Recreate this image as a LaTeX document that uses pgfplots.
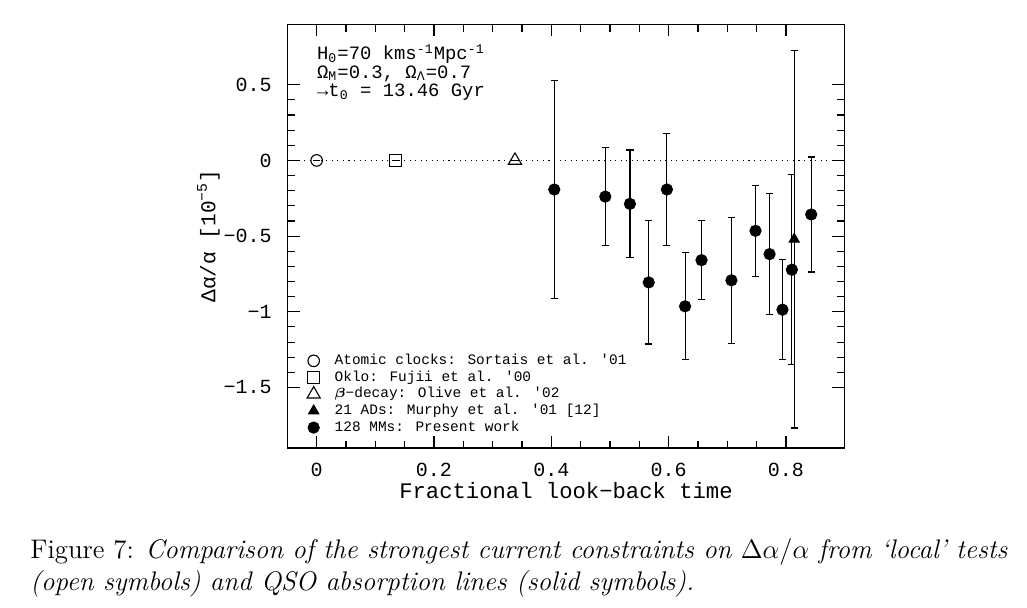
\documentclass[border=0pt]{standalone}
\usepackage{amsmath}
\usepackage{fontspec}
\usepackage{pgfplots}
\pgfplotsset{compat=1.18}
\usepackage{pgfplotstable}

% thin, wide typeface for everything inside the plot frame
\newfontfamily\pf{Liberation Mono}

% 128 many-multiplet absorbers, binned
\pgfplotstableread{
x      y       e
0.405  -0.192  0.718
0.492  -0.239  0.323
0.534  -0.287  0.356
0.566  -0.806  0.407
0.597  -0.192  0.370
0.628  -0.964  0.354
0.656  -0.659  0.262
0.707  -0.792  0.417
0.748  -0.465  0.302
0.772  -0.619  0.398
0.794  -0.986  0.331
0.810  -0.722  0.627
0.843  -0.357  0.380
}\mmdata

% 21 alkali doublets
\pgfplotstableread{
x      y       e
0.814  -0.521  1.247
}\addata

% local constraints (errors far below the plotting resolution)
\pgfplotstableread{
x     y   e
0.000 0   0.001
}\clockdata
\pgfplotstableread{
x     y   e
0.135 0   0.001
}\oklodata
\pgfplotstableread{
x     y   e
0.338 0   0.001
}\betadata

\begin{document}
\begin{tikzpicture}
\path[use as bounding box] (0pt,0pt) rectangle (462.15pt,273.15pt);
\begin{axis}[
  at={(129.3pt,71.55pt)}, anchor=south west,
  scale only axis, width=250.8pt, height=190.7pt,
  xmin=-0.05, xmax=0.9, ymin=-1.9, ymax=0.9,
  xtick={0,0.2,0.4,0.6,0.8},
  xticklabels={0,0.2,0.4,0.6,0.8},
  ytick={-1.5,-1,-0.5,0,0.5},
  yticklabels={−1.5,−1,−0.5,0,0.5},
  minor x tick num=3, minor y tick num=4,
  tick align=inside,
  major tick length=5.5pt, minor tick length=3.3pt,
  every tick/.style={black, line width=0.5pt},
  axis line style={line width=0.6pt},
  xticklabel style={font=\pf\fontsize{9}{10}\selectfont, anchor=base, yshift=-13pt},
  yticklabel style={font=\pf\fontsize{9}{10}\selectfont, anchor=east, inner sep=0pt, xshift=-6.9pt},
  xlabel={Fractional look−back time},
  ylabel={Δα/α [10\textsuperscript{−5}]},
  every axis x label/.style={at={(axis description cs:0.5,-0.118)}, anchor=base, font=\pf\fontsize{10}{12}\selectfont},
  every axis y label/.style={at={(axis description cs:-0.129,0.5)}, rotate=90, anchor=base, font=\pf\fontsize{9.5}{11}\selectfont},
  legend cell align=left,
  legend image code/.code={\draw[mark repeat=2,mark phase=2,#1] plot coordinates {(0cm,0cm) (0.1cm,0cm) (0.2cm,0cm)};},
  legend style={draw=none, fill=none, inner sep=0pt, row sep=-2.7pt,
    font=\pf\fontsize{6.5}{7.4}\selectfont,
    /tikz/every odd column/.append style={column sep=4.5pt},
    at={(axis cs:-0.017,-1.843)}, anchor=south west},
  error bars/error bar style={line width=0.5pt},
  error bars/error mark options={rotate=90, line width=0.5pt, mark size=1.6pt},
]
% zero-variation reference line
\addplot[dotted, line width=0.5pt, forget plot] coordinates {(-0.05,0) (0.9,0)};

\addplot[only marks, mark=o, mark size=2.6pt, line width=0.5pt, black,
  error bars/.cd, y dir=both, y explicit]
  table[x=x, y=y, y error=e] {\clockdata};
\addlegendentry{Atomic clocks: Sortais et al. '01}

\addplot[only marks, mark=square, mark size=2.7pt, line width=0.5pt, black,
  error bars/.cd, y dir=both, y explicit]
  table[x=x, y=y, y error=e] {\oklodata};
\addlegendentry{Oklo: Fujii et al. '00}

\addplot[only marks, mark=triangle, mark size=3.4pt, line width=0.5pt, black,
  error bars/.cd, y dir=both, y explicit]
  table[x=x, y=y, y error=e] {\betadata};
\addlegendentry{$\boldsymbol{\beta}$−decay: Olive et al. '02}

\addplot[only marks, mark=triangle*, mark size=2.6pt, line width=0.5pt, black,
  mark options={fill=black},
  error bars/.cd, y dir=both, y explicit]
  table[x=x, y=y, y error=e] {\addata};
\addlegendentry{21 ADs: Murphy et al. '01 [12]}

\addplot[only marks, mark=*, mark size=2.5pt, line width=0.5pt, black,
  mark options={fill=black},
  error bars/.cd, y dir=both, y explicit]
  table[x=x, y=y, y error=e] {\mmdata};
\addlegendentry{128 MMs: Present work}

% cosmology used for the look-back times
\node[anchor=base west, inner sep=0pt, font=\pf\fontsize{8.5}{10}\selectfont]
  at (axis cs:0,0.664) {H\textsubscript{0}=70 kms\textsuperscript{-1}Mpc\textsuperscript{-1}};
\node[anchor=base west, inner sep=0pt, font=\pf\fontsize{8.5}{10}\selectfont]
  at (axis cs:0,0.544) {Ω\textsubscript{M}=0.3, Ω\textsubscript{Λ}=0.7};
\node[anchor=base west, inner sep=0pt, font=\pf\fontsize{8.5}{10}\selectfont]
  at (axis cs:0,0.423) {→t\textsubscript{0} = 13.46 Gyr};
\end{axis}

\node[anchor=base west, inner sep=0pt, font=\fontsize{12.1}{14.5}\selectfont]
  at (13.5pt,22.05pt) {Figure 7: \textit{Comparison of the strongest current constraints on $\Delta\alpha/\alpha$ from `local' tests}};
\node[anchor=base west, inner sep=0pt, font=\fontsize{12.1}{14.5}\selectfont]
  at (13.5pt,7.65pt) {\textit{(open symbols) and QSO absorption lines (solid symbols).}};
\end{tikzpicture}
\end{document}
